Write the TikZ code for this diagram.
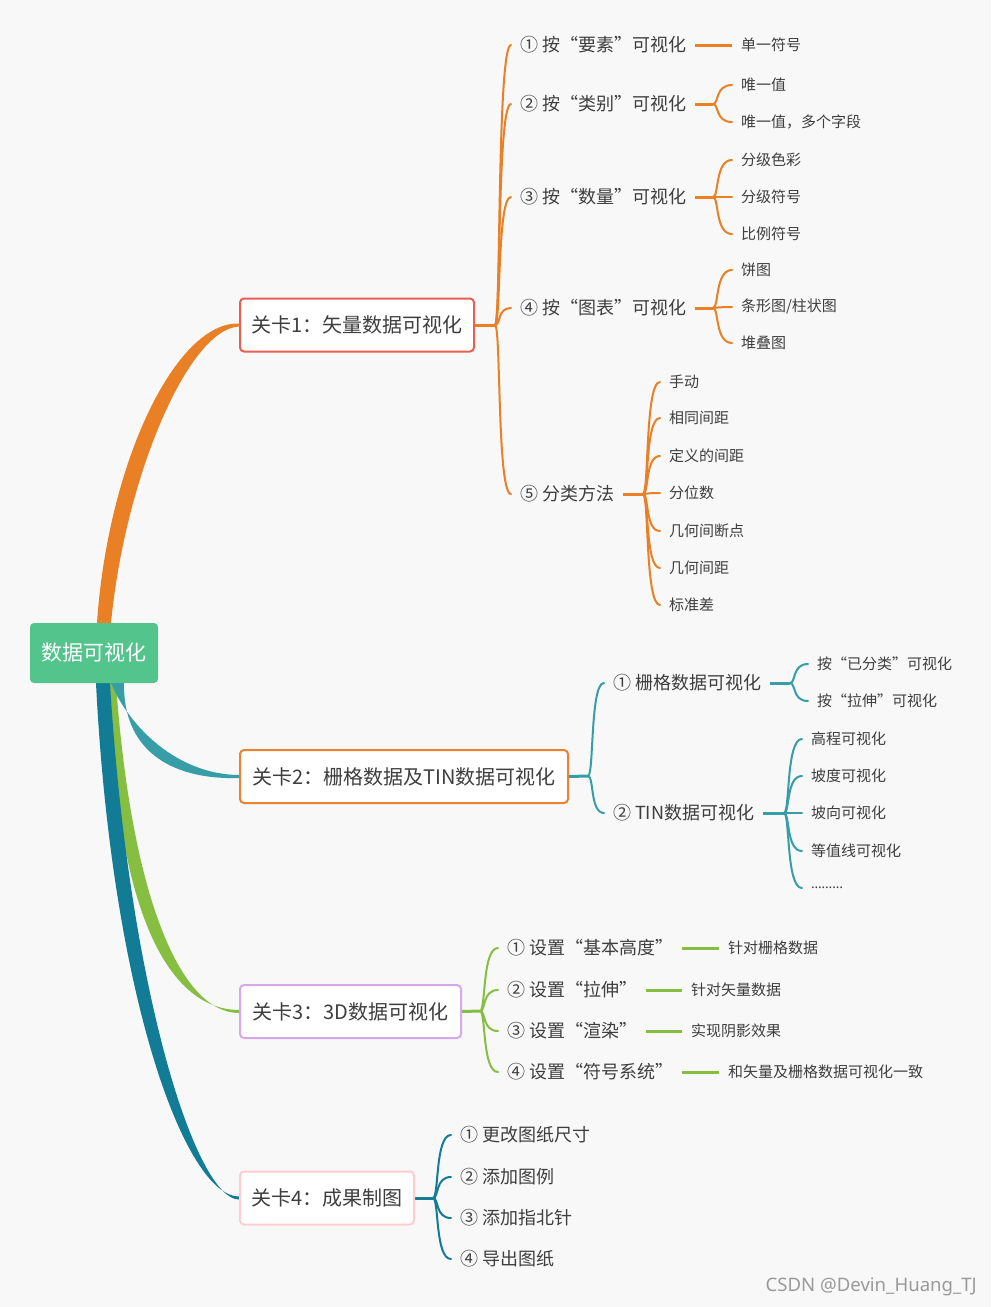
\documentclass[tikz,border=0pt]{standalone}
\usepackage{fontspec}
\setmainfont{Noto Sans CJK SC}
\newfontfamily\latinf{Noto Sans}
\usetikzlibrary{calc}
\definecolor{bg}{HTML}{F8F8F8}
\definecolor{cRoot}{HTML}{52C48C}
\definecolor{cO}{HTML}{E98026}
\definecolor{cT}{HTML}{379EA8}
\definecolor{cG}{HTML}{86BE42}
\definecolor{cD}{HTML}{127C96}
\definecolor{cB1}{HTML}{E65F50}
\definecolor{cB2}{HTML}{EA8232}
\definecolor{cB3}{HTML}{D6A8EA}
\definecolor{cB4}{HTML}{FFCDCD}
\definecolor{txt}{HTML}{3E3E3E}
\definecolor{cWm}{HTML}{9A9A9A}
\pgfdeclarelayer{bgfill}
\pgfdeclarelayer{lines}
\pgfsetlayers{bgfill,lines,main}
\newcommand\brn[3]{\draw[#1] (#2) .. controls ($(#2)+(6,0)$) and ($(#2 |- #3)+(2,0)$) .. (#3);}
\tikzset{
  rootbox/.style={fill=cRoot, rounded corners=4pt, minimum width=128pt, minimum height=60pt, inner sep=0pt, text=white, font=\fontsize{21}{21}\selectfont},
  stage/.style={fill=white, line width=2pt, rounded corners=4pt, minimum height=53pt, inner sep=0pt, text=txt, font=\fontsize{20}{20}\selectfont},
  mid/.style={anchor=west, inner sep=0pt, outer xsep=9pt, text=txt, font=\fontsize{18}{18}\selectfont},
  leaf/.style={anchor=west, inner sep=0pt, outer xsep=9pt, text=txt, font=\fontsize{15}{15}\selectfont},
  stub/.style={line width=3pt},
  bl/.style={line width=2pt, line cap=round},
}
\begin{document}
\begin{tikzpicture}[x=1pt,y=-1pt]
\useasboundingbox (0,0) rectangle (991,1307);
\begin{pgfonlayer}{bgfill}
\fill[bg] (0,0) rectangle (991,1307);
\end{pgfonlayer}

% root and stages
\node[rootbox] (root) at (94,653) {数据可视化};
\node[stage, draw=cB1, minimum width=234pt] (s1) at (357,325) {关卡1：矢量数据可视化};
\node[stage, draw=cB2, minimum width=328pt] (s2) at (404,776.5) {关卡2：栅格数据及TIN数据可视化};
\node[stage, draw=cB3, minimum width=221pt] (s3) at (350.5,1011.5) {关卡3：3D数据可视化};
\node[stage, draw=cB4, minimum width=174pt] (s4) at (327,1198) {关卡4：成果制图};

% junctions
\coordinate (j1) at (495,325);
\coordinate (j2) at (588,776);
\coordinate (j3) at (480,1011);
\coordinate (j4) at (433,1198);

% level 2 group 1
\node[mid] (a1) at (511,45) {① 按“要素”可视化};
\node[mid] (a2) at (511,104) {② 按“类别”可视化};
\node[mid] (a3) at (511,197) {③ 按“数量”可视化};
\node[mid] (a4) at (511,308) {④ 按“图表”可视化};
\node[mid] (a5) at (511,494) {⑤ 分类方法};
\coordinate (j12) at (713,104);
\coordinate (j13) at (713,197);
\coordinate (j14) at (713,308);
\coordinate (j15) at (643,494);
\node[leaf] (a1a) at (732,45) {单一符号};
\node[leaf] (a2a) at (732,85) {唯一值};
\node[leaf] (a2b) at (732,122) {唯一值，多个字段};
\node[leaf] (a3a) at (732,160) {分级色彩};
\node[leaf] (a3b) at (732,197) {分级符号};
\node[leaf] (a3c) at (732,234) {比例符号};
\node[leaf] (a4a) at (732,270) {饼图};
\node[leaf] (a4b) at (732,307) {条形图/柱状图};
\node[leaf] (a4c) at (732,343) {堆叠图};
\node[leaf] (a5a) at (660,382) {手动};
\node[leaf] (a5b) at (660,418) {相同间距};
\node[leaf] (a5c) at (660,456) {定义的间距};
\node[leaf] (a5d) at (660,493) {分位数};
\node[leaf] (a5e) at (660,531) {几何间断点};
\node[leaf] (a5f) at (660,568) {几何间距};
\node[leaf] (a5g) at (660,605) {标准差};

% level 2 group 2
\node[mid] (b1) at (604,683) {① 栅格数据可视化};
\node[mid] (b2) at (604,813) {② TIN数据可视化};
\coordinate (j21) at (790,683);
\coordinate (j22) at (784,813);
\node[leaf] (b1a) at (808,664) {按“已分类”可视化};
\node[leaf] (b1b) at (808,701) {按“拉伸”可视化};
\node[leaf] (b2a) at (802,739) {高程可视化};
\node[leaf] (b2b) at (802,776) {坡度可视化};
\node[leaf] (b2c) at (802,813) {坡向可视化};
\node[leaf] (b2d) at (802,851) {等值线可视化};
\node[leaf, font=\fontsize{13.5}{13.5}\selectfont\latinf] (b2e) at (802,888) {………};

% level 2 group 3
\node[mid] (c1) at (498,948) {① 设置“基本高度”};
\node[mid] (c2) at (498,990) {② 设置“拉伸”};
\node[mid] (c3) at (498,1031) {③ 设置“渲染”};
\node[mid] (c4) at (498,1072) {④ 设置“符号系统”};
\node[leaf] (c1a) at (719,948) {针对栅格数据};
\node[leaf] (c2a) at (682,990) {针对矢量数据};
\node[leaf] (c3a) at (682,1031) {实现阴影效果};
\node[leaf] (c4a) at (719,1072) {和矢量及栅格数据可视化一致};

% level 2 group 4
\node[mid] (d1) at (451,1135) {① 更改图纸尺寸};
\node[mid] (d2) at (451,1177) {② 添加图例};
\node[mid] (d3) at (451,1218) {③ 添加指北针};
\node[mid] (d4) at (451,1259) {④ 导出图纸};

\node[anchor=east, inner sep=0pt, text=cWm, font=\fontsize{18.6}{18.6}\selectfont\latinf] (wm) at (977,1287) {CSDN @Devin\_Huang\_TJ};

\begin{pgfonlayer}{lines}
% thick tapered bands from root
\fill[cG] ($(root.south)+(16,0)$) .. controls (114,905) and (166,1009.5) .. ($(s3.west)+(0,-1.5)$)
  -- ($(s3.west)+(0,1.5)$) .. controls (180,1013) and (131,895) .. ($(root.south)+(22,0)$) -- cycle;
\fill[cD] ($(root.south)+(2,0)$) .. controls (112,1000) and (186,1196.5) .. ($(s4.west)+(0,-1.5)$)
  -- ($(s4.west)+(0,1.5)$) .. controls (197,1200) and (129,995) .. ($(root.south)+(16,0)$) -- cycle;
\fill[cT] ($(root.south)+(17,0)$) .. controls (130,728) and (178,774.5) .. ($(s2.west)+(0,-1.5)$)
  -- ($(s2.west)+(0,1.5)$) .. controls (168,780) and (123,748) .. ($(root.south)+(30,0)$) -- cycle;
\fill[cO] ($(root.north)+(3,0)$) .. controls (108,462) and (176,321.5) .. ($(s1.west)+(0,-1.5)$)
  -- ($(s1.west)+(0,1.5)$) .. controls (188,329) and (125,478) .. ($(root.north)+(17,0)$) -- cycle;

% group 1
\draw[cO,stub] (s1.east) -- (j1);
\brn{cO,bl}{j1}{a1.west}
\brn{cO,bl}{j1}{a2.west}
\brn{cO,bl}{j1}{a3.west}
\brn{cO,bl}{j1}{a4.west}
\brn{cO,bl}{j1}{a5.west}
\draw[cO,stub] (a1.east) -- (a1a.west);
\draw[cO,stub] (a2.east) -- (j12);
\draw[cO,stub] (a3.east) -- (j13);
\draw[cO,stub] (a4.east) -- (j14);
\draw[cO,stub] (a5.east) -- (j15);
\brn{cO,bl}{j12}{a2a.west}
\brn{cO,bl}{j12}{a2b.west}
\brn{cO,bl}{j13}{a3a.west}
\brn{cO,bl}{j13}{a3b.west}
\brn{cO,bl}{j13}{a3c.west}
\brn{cO,bl}{j14}{a4a.west}
\brn{cO,bl}{j14}{a4b.west}
\brn{cO,bl}{j14}{a4c.west}
\brn{cO,bl}{j15}{a5a.west}
\brn{cO,bl}{j15}{a5b.west}
\brn{cO,bl}{j15}{a5c.west}
\brn{cO,bl}{j15}{a5d.west}
\brn{cO,bl}{j15}{a5e.west}
\brn{cO,bl}{j15}{a5f.west}
\brn{cO,bl}{j15}{a5g.west}

% group 2
\draw[cT,stub] (s2.east) -- (j2);
\brn{cT,bl}{j2}{b1.west}
\brn{cT,bl}{j2}{b2.west}
\draw[cT,stub] (b1.east) -- (j21);
\draw[cT,stub] (b2.east) -- (j22);
\brn{cT,bl}{j21}{b1a.west}
\brn{cT,bl}{j21}{b1b.west}
\brn{cT,bl}{j22}{b2a.west}
\brn{cT,bl}{j22}{b2b.west}
\brn{cT,bl}{j22}{b2c.west}
\brn{cT,bl}{j22}{b2d.west}
\brn{cT,bl}{j22}{b2e.west}

% group 3
\draw[cG,stub] (s3.east) -- (j3);
\brn{cG,bl}{j3}{c1.west}
\brn{cG,bl}{j3}{c2.west}
\brn{cG,bl}{j3}{c3.west}
\brn{cG,bl}{j3}{c4.west}
\draw[cG,stub] (c1.east) -- (c1a.west);
\draw[cG,stub] (c2.east) -- (c2a.west);
\draw[cG,stub] (c3.east) -- (c3a.west);
\draw[cG,stub] (c4.east) -- (c4a.west);

% group 4
\draw[cD,stub] (s4.east) -- (j4);
\brn{cD,bl}{j4}{d1.west}
\brn{cD,bl}{j4}{d2.west}
\brn{cD,bl}{j4}{d3.west}
\brn{cD,bl}{j4}{d4.west}
\end{pgfonlayer}
\end{tikzpicture}
\end{document}
